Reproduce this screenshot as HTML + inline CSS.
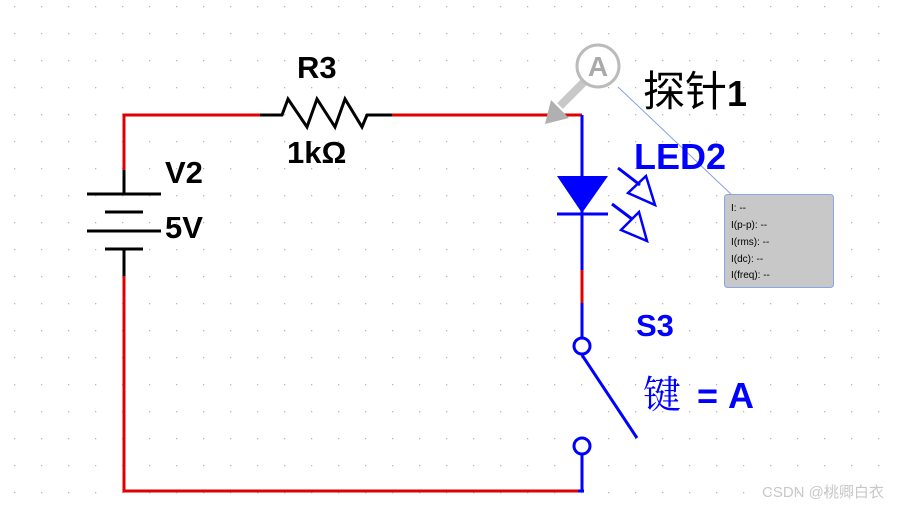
<!DOCTYPE html>
<html><head><meta charset="utf-8"><style>
html,body{margin:0;padding:0;background:#fff;}
svg text{font-family:"Liberation Sans","Noto Sans CJK SC",sans-serif;}
</style></head><body>
<svg width="901" height="506" viewBox="0 0 901 506" xmlns="http://www.w3.org/2000/svg">
<defs><pattern id="g" x="0" y="0" width="27" height="27" patternUnits="userSpaceOnUse"><rect x="14" y="6" width="1.3" height="1.3" fill="#b8b8b8"/></pattern></defs>
<rect width="901" height="506" fill="url(#g)"/>
<g fill="none" stroke-width="3">
<polyline points="124,170 124,115 262,115" stroke="#e00000"/>
<line x1="392" y1="115" x2="582" y2="115" stroke="#e00000"/>
<polyline points="124,276 124,491 582,491" stroke="#e00000"/>
<line x1="582" y1="270" x2="582" y2="303" stroke="#e00000"/>
<g stroke="#000">
<line x1="124" y1="170" x2="124" y2="194"/>
<line x1="87" y1="194" x2="161" y2="194"/>
<line x1="105" y1="212" x2="143" y2="212"/>
<line x1="87" y1="231" x2="161" y2="231"/>
<line x1="105" y1="249" x2="143" y2="249"/>
<line x1="124" y1="249" x2="124" y2="276"/>
<polyline points="260,115 282,115 288,99 307,127 317,99 335,127 345,99 362,127 367,115 392,115"/>
</g>
<g stroke="#0000ff">
<line x1="582" y1="115" x2="582" y2="270"/>
<line x1="582" y1="303" x2="582" y2="338"/>
<circle cx="582" cy="346" r="8"/>
<line x1="582" y1="355" x2="637" y2="438"/>
<circle cx="582" cy="446" r="8"/>
<line x1="582" y1="454" x2="582" y2="491"/>
<line x1="578" y1="491" x2="584" y2="491"/>
<line x1="557" y1="214" x2="608" y2="214"/>
<line x1="618" y1="168" x2="640" y2="185"/><polygon points="628,193 646,176 655,205" stroke-width="2.5"/>
<line x1="612" y1="204" x2="632" y2="219"/><polygon points="621,230 639,212 647,241" stroke-width="2.5"/>
</g>
</g>
<polygon points="557,176 608,176 582,213" fill="#0000ff"/>
<line x1="618" y1="87" x2="733" y2="196" stroke="#8aa0e0" stroke-width="1"/>
<line x1="584" y1="82" x2="560" y2="106" stroke="#c8c8c8" stroke-width="8"/>
<polygon points="545,124 551,100 569,118" fill="#b0b0b0"/>
<circle cx="598" cy="66" r="21" fill="#fff" stroke="#bbb" stroke-width="3"/>
<text x="598" y="76" font-size="28" font-weight="bold" fill="#aaa" text-anchor="middle">A</text>
<rect x="724.5" y="194.5" width="109" height="93" rx="3" fill="#c8c8c8" stroke="#8aa6e8"/>
<g font-size="10" fill="#000">
<text x="731" y="211">I: --</text><text x="731" y="228">I(p-p): --</text><text x="731" y="245">I(rms): --</text><text x="731" y="262">I(dc): --</text><text x="731" y="278">I(freq): --</text>
</g>
<g font-weight="bold" fill="#000" font-size="31">
<text x="297" y="78">R3</text>
<text x="287" y="163">1kΩ</text>
<text x="165" y="183">V2</text>
<text x="165" y="238">5V</text>
</g>
<text x="643" y="106" font-size="42" fill="#000" font-family="'Noto Serif CJK SC',serif">探针<tspan font-weight="bold" font-family="Liberation Sans,sans-serif" font-size="36">1</tspan></text>
<text x="634" y="169" font-size="36" font-weight="bold" fill="#0000ff">LED2</text>
<text x="636" y="336" font-size="31" font-weight="bold" fill="#0000ff">S3</text>
<text x="643" y="408" font-size="38" fill="#0000ff"><tspan font-family="'Noto Serif CJK SC',serif">键</tspan><tspan font-weight="bold" dx="6" font-size="36"> = A</tspan></text>
<text x="762" y="497" font-size="15" fill="#c8c8c8">CSDN @桃卿白衣</text>
</svg>
</body></html>
